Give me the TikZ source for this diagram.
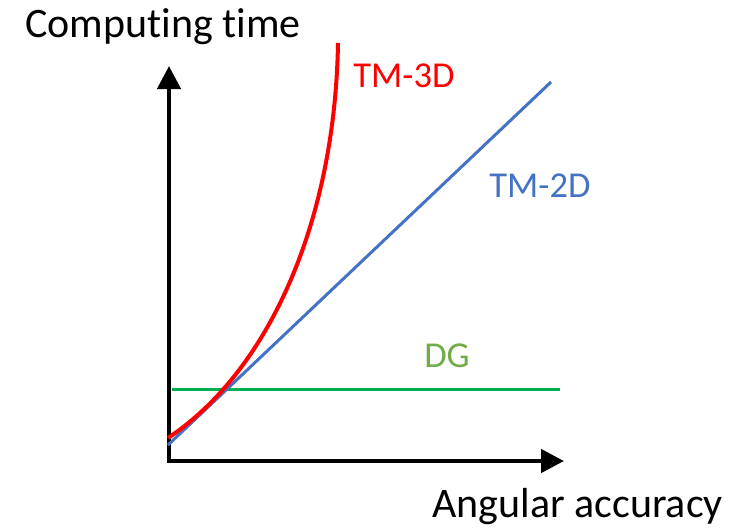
\documentclass[tikz,border=0pt]{standalone}
\usepackage{fontspec}
\setmainfont[Ligatures=NoCommon]{Carlito}
\usepackage{xcolor}
\usetikzlibrary{arrows.meta,positioning}
\definecolor{tmred}{HTML}{FF0000}
\definecolor{tmblue}{HTML}{4472C4}
\definecolor{dgline}{HTML}{00B050}
\definecolor{dgtext}{HTML}{70AD47}

\begin{document}
\begin{tikzpicture}[
x=1pt, y=-1pt,
lbl/.style={inner sep=0pt, font=\fontsize{42}{48}\selectfont},
tag/.style={inner sep=0pt, font=\fontsize{36.5}{42}\selectfont},
axis/.style={line width=4.5pt, {Triangle[length=23pt,width=23pt]}-{Triangle[length=23pt,width=23pt]}},
curve/.style={line width=3pt}
]
\useasboundingbox (0,0) rectangle (751,530);
% axes
\coordinate (origin) at (169,461);
\coordinate (ytop) at (169,66);
\coordinate (xend) at (564,461);
\draw[axis] (ytop) |- (xend);
\node[lbl, anchor=base west] (ylabel) at (25,37) {Computing time};
\node[lbl, anchor=base east] (xlabel) at (723,517) {Angular accuracy};
% DG
\coordinate (dgstart) at (172,389);
\coordinate (dgend) at (560,389);
\draw[curve, dgline] (dgstart) -- (dgend);
\node[tag, text=dgtext] (dg) at (447,356) {DG};
% TM-2D
\coordinate (twostart) at (168,445);
\coordinate (twoend) at (551,82);
\draw[curve, tmblue] (twostart) -- (twoend);
\node[tag, text=tmblue] (tmtwo) at (540,186) {TM-2D};
% TM-3D
\coordinate (threestart) at (168,438);
\coordinate (threeend) at (338,43);
\draw[curve, tmred, line width=4pt] (threestart) .. controls (270,370) and (335,220) .. (threeend);
\node[tag, text=tmred] (tmthree) at (404,76) {TM-3D};
\end{tikzpicture}
\end{document}
